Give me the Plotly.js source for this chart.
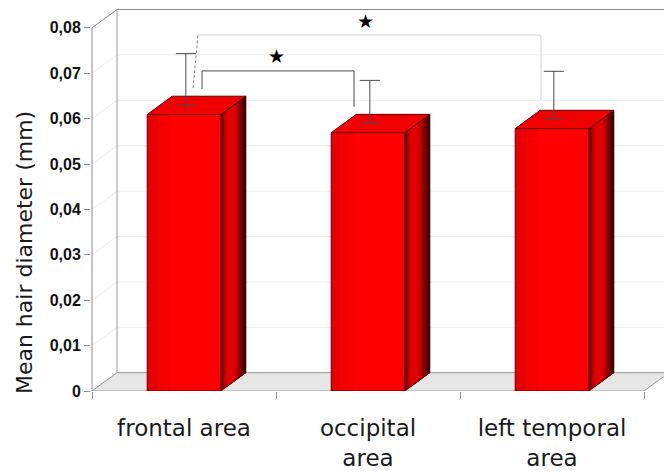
<!DOCTYPE html>
<html><head><meta charset="utf-8">
<script src="https://cdn.plot.ly/plotly-3.0.1.min.js"></script>
<style>html,body{margin:0;padding:0;background:#fff}</style>
</head><body><div id="chart" style="width:664px;height:475px"></div>
<script>
// ---- data ----
const categories = ['frontal area', 'occipital<br>area', 'left temporal<br>area'];
const meanDiameter = [0.0609, 0.0569, 0.0578];
const errorUpper = [0.0114, 0.0095, 0.0106];
const yTickVals = [0, 0.01, 0.02, 0.03, 0.04, 0.05, 0.06, 0.07, 0.08];
const yTickText = ['0', '0,01', '0,02', '0,03', '0,04', '0,05', '0,06', '0,07', '0,08'];
const yTitle = 'Mean hair diameter (mm)';
const sigLabel = '\u2605';

// ---- geometry / style ----
const catPx = 184, unitPx = 4540;        // px per category, px per 1.0 of value
const depthX = 25 / catPx, depthY = 18.3 / unitPx;
const barW = 0.4;
const x0 = -0.5, xEnd = x0 + 3;
const xRange = [x0 - 1 / catPx, x0 + 572 / catPx];
const yRange = [0, 391 / unitPx];
const yMax = yTickVals[yTickVals.length - 1];
const xIdx = categories.map((_, i) => i);

const shapes = [];
const line = (xa, ya, xb, yb, color, w, dash) => shapes.push({type: 'line', xref: 'x', yref: 'y', x0: xa, y0: ya, x1: xb, y1: yb, layer: 'below', line: {color: color, width: w || 1, dash: dash || 'solid'}});
const poly = (pts, fill, lc, lw, layer) => shapes.push({type: 'path', xref: 'x', yref: 'y', layer: layer || 'below',
  path: 'M ' + pts.map(p => p[0] + ',' + p[1]).join(' L ') + ' Z', fillcolor: fill, line: {color: lc || fill, width: lw || 0}});

// walls: grid lines
yTickVals.forEach(v => {
  if (v === 0) return;
  const top = v === yMax;
  line(x0, v, x0 + depthX, v + depthY, top ? '#8a8a8a' : '#ededed', 1);
  line(x0 + depthX, v + depthY, xRange[1] + 0.2, v + depthY, top ? '#8a8a8a' : '#ebebeb', 1);
});
line(x0 + depthX, depthY, x0 + depthX, yMax + depthY, '#9a9a9a', 1);
// floor
poly([[x0, 0], [x0 + depthX, depthY], [xEnd + depthX, depthY], [xEnd, 0]], '#e6e6e6', '#9a9a9a', 1);
line(x0, 0, x0, yMax, '#8a8a8a', 1);

// 3D faces of bars (side shading built from overlapping bands)
const sideColors = ['#5a0000', '#c00000', '#dc0000', '#e40000', '#e20000', '#d40000', '#b80000', '#900000', '#600000', '#3a0000'];
const frontShade = ['rgba(120,0,0,0.06)', 'rgba(120,0,0,0.06)', 'rgba(120,0,0,0.05)'];
meanDiameter.forEach((v, i) => {
  const xr = i + barW / 2, xl = i - barW / 2;
  const n = sideColors.length;
  sideColors.forEach((c, k) => {
    const a = k / n, b = 1;
    poly([[xr + depthX * a, depthY * a], [xr + depthX * b, depthY * b], [xr + depthX * b, v + depthY * b], [xr + depthX * a, v + depthY * a]], c);
  });
  poly([[xr, 0], [xr + depthX, depthY], [xr + depthX, v + depthY], [xr, v]], 'rgba(0,0,0,0)', '#4a0000', 1);
  poly([[xl, v], [xl + depthX, v + depthY], [xr + depthX, v + depthY], [xr, v]], '#f00000', '#5a0000', 1);
  // subtle darkening toward the left edge of the front face
  frontShade.forEach((c, k) => {
    const w = barW * (0.12 + 0.1 * k);
    poly([[xl, 0], [xl + w, 0], [xl + w, v], [xl, v]], c, c, 0, 'above');
  });
});

// significance brackets
const brA = {x: [0.098, 0.098, 0.924, 0.924], y: [0.0665, 0.0705, 0.0705, 0.0626]};
const brBdash = {x: [0.049, 0.076], y: [0.0667, 0.0784]};
const brB = {x: [0.076, 1.94, 1.94], y: [0.0784, 0.0784, 0.0641]};
const starPos = {x: [0.5, 0.985], y: [0.0738, 0.0815]};

const traces = [
  {type: 'bar', x: xIdx, y: meanDiameter, width: barW, hoverinfo: 'skip',
   marker: {color: '#ff0000', line: {color: '#6a0000', width: 1}}},
  {type: 'scatter', mode: 'markers', x: xIdx.map(i => i + 0.01), y: meanDiameter.map(v => v + depthY / 2),
   marker: {size: 1, color: 'rgba(0,0,0,0)'}, hoverinfo: 'skip',
   error_y: {type: 'data', symmetric: false, array: errorUpper, arrayminus: errorUpper.map(() => 0), color: '#4a4a4a', thickness: 1, width: 10}},
  {type: 'scatter', mode: 'lines', x: brA.x, y: brA.y, line: {color: '#4a4a4a', width: 1}, hoverinfo: 'skip'},
  {type: 'scatter', mode: 'lines', x: brBdash.x, y: brBdash.y, line: {color: '#888', width: 1, dash: '3px,2px'}, hoverinfo: 'skip'},
  {type: 'scatter', mode: 'lines', x: brB.x, y: brB.y, line: {color: '#cfcfcf', width: 1}, hoverinfo: 'skip'}
];

const annotations = starPos.x.map((x, k) => ({x: x, y: starPos.y[k], xref: 'x', yref: 'y', text: sigLabel, showarrow: false,
  font: {family: 'DejaVu Sans', size: 19, color: '#000'}}));
annotations.push({xref: 'paper', yref: 'paper', x: -0.115, y: 0.353, text: yTitle, textangle: -90, showarrow: false,
  xanchor: 'center', yanchor: 'middle', font: {family: 'DejaVu Sans', size: 22, color: '#1a1a1a'}});

const layout = {
  width: 664, height: 475, margin: {l: 91, r: 0, t: 0, b: 84},
  paper_bgcolor: '#fff', plot_bgcolor: '#fff', showlegend: false, bargap: 0,
  xaxis: {range: xRange, tickmode: 'array', tickvals: xIdx, ticktext: categories, ticks: '', showgrid: false,
    zeroline: false, showline: false, ticklabelstandoff: 21,
    tickfont: {family: 'DejaVu Sans', size: 23, color: '#1a1a1a'},
    minor: {tickmode: 'linear', tick0: -0.5, dtick: 1, ticks: 'outside', ticklen: 7, tickcolor: '#8a8a8a', showgrid: false}},
  yaxis: {range: yRange, tickmode: 'array', tickvals: yTickVals, ticktext: yTickText, ticks: 'outside', ticklen: 6,
    tickcolor: '#8a8a8a', showgrid: false, zeroline: false, showline: false,
    tickfont: {family: 'Liberation Sans', size: 16, weight: 'bold', color: '#111'}},
  shapes: shapes, annotations: annotations
};
Plotly.newPlot('chart', traces, layout, {displayModeBar: false, staticPlot: true});
</script></body></html>
